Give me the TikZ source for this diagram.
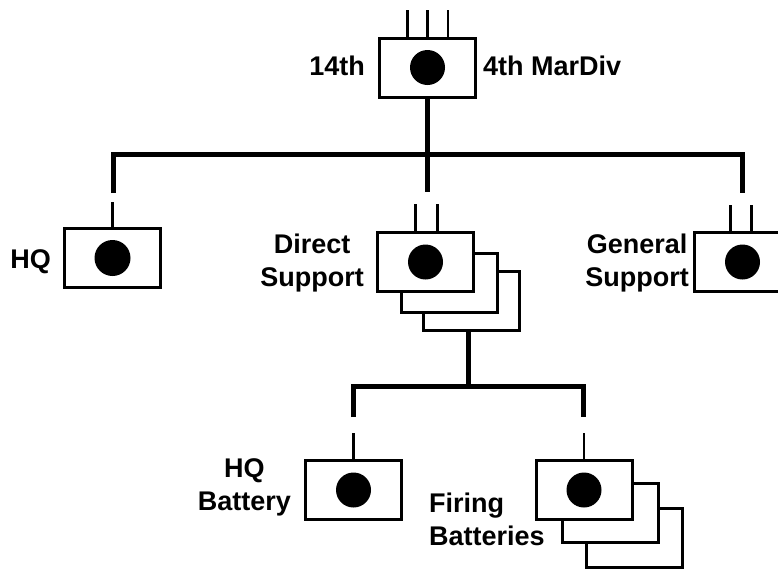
\documentclass[tikz,border=0pt]{standalone}
\usepackage{fontspec}
\setmainfont{Liberation Sans}
\begin{document}
\begin{tikzpicture}[x=1pt,y=-1pt,
  unitbox/.style={draw,line width=3pt,fill=white,minimum width=96pt,minimum height=59pt,inner sep=0pt},
  lbl/.style={font=\fontsize{27}{33}\selectfont\bfseries,inner sep=0pt},
  bus/.style={line width=5pt},
  tick/.style={line width=2.6pt},
  dot/.style={fill=black}]
\useasboundingbox (0,0) rectangle (778,568);
% top unit
\node[unitbox] (top) at (427.5,67.5) {};
\fill[dot] (top) circle (17.5);
\draw[tick] ([xshift=-20pt]top.north) -- ++(0,-27);
\draw[tick] (top.north) -- ++(0,-27);
\draw[tick] ([xshift=20.5pt]top.north) -- ++(0,-27);
\node[lbl,anchor=base east] (l14) at (365,75) {14th};
\node[lbl,anchor=base west] (lmd) at (483,75) {4th MarDiv};
% upper bus
\coordinate (bc) at (427.5,154);
\coordinate (dl) at (113,193);
\coordinate (dc) at (427.5,192);
\coordinate (dr) at (742,193);
\draw[bus] (top.south) -- (bc);
\draw[bus] (dl) |- (bc) -| (dr);
\draw[bus] (bc) -- (dc);
% HQ
\node[unitbox] (hq) at (112.5,258) {};
\fill[dot] (hq) circle (18);
\coordinate (thq) at (112.5,202);
\draw[tick] (thq) -- (hq.north);
\node[lbl,anchor=base east] (lhq) at (51,268) {HQ};
% Direct support
\node[unitbox] (ds3) at (471.5,301) {};
\node[unitbox] (ds2) at (449.5,282.5) {};
\node[unitbox] (ds) at (425.5,262) {};
\fill[dot] (ds) circle (17.5);
\draw[tick] ([xshift=-10pt]ds.north) -- ++(0,-27);
\draw[tick] ([xshift=12pt]ds.north) -- ++(0,-27);
\node[lbl,anchor=east,align=center] (lds) at (364,263) {Direct\\Support};
% General support
\node[unitbox] (gs) at (742.5,262) {};
\fill[dot] (gs) circle (17.5);
\draw[tick] ([xshift=-12pt]gs.north) -- ++(0,-26);
\draw[tick] ([xshift=9pt]gs.north) -- ++(0,-26);
\node[lbl,anchor=east,align=center] (lgs) at (689,263) {General\\Support};
% lower bus
\coordinate (lc) at (468,386);
\coordinate (ll) at (353,417);
\coordinate (lr) at (583,417);
\draw[bus] ([xshift=-3.5pt]ds3.south) -- (lc);
\draw[bus] (ll) |- (lc) -| (lr);
% HQ battery
\node[unitbox] (hqb) at (353.5,490) {};
\fill[dot] (hqb) circle (17.5);
\coordinate (thqb) at (353.5,433);
\draw[tick] (thqb) -- (hqb.north);
\node[lbl,anchor=east,align=center] (lhqb) at (291,487) {HQ\\Battery};
% Firing batteries
\node[unitbox] (fb3) at (634.5,537.5) {};
\node[unitbox] (fb2) at (610.5,513) {};
\node[unitbox] (fb) at (584,490) {};
\fill[dot] (fb) circle (17.5);
\coordinate (tfb) at (584,433);
\draw[tick] (tfb) -- (fb.north);
\node[lbl,anchor=west,align=left] (lfb) at (429,519) {Firing\\Batteries};
\end{tikzpicture}
\end{document}
